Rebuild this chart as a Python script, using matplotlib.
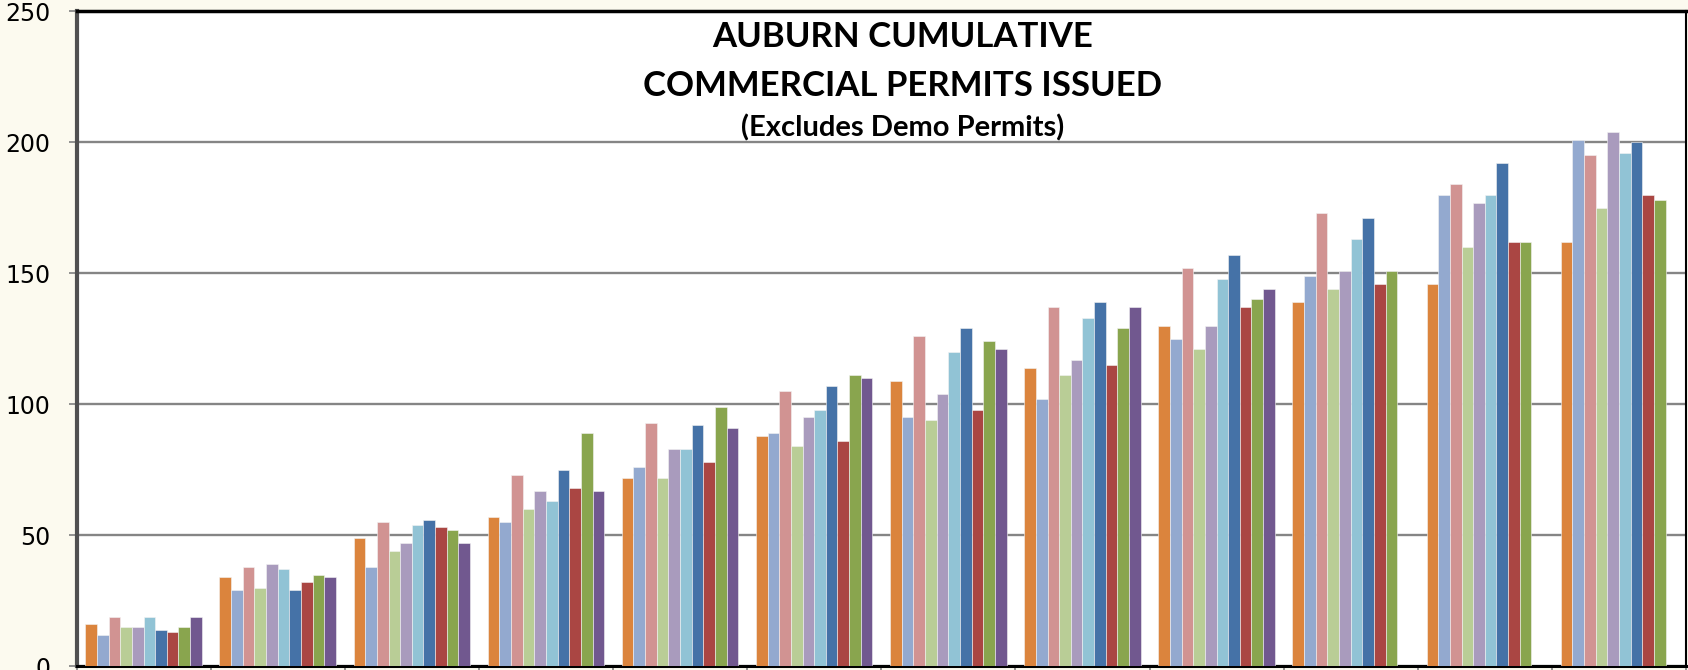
# Auburn cumulative commercial permits by month, one bar per year

import matplotlib
matplotlib.use("Agg")
import matplotlib.pyplot as plt
import numpy as np

# データ (months on the x axis, one series per year, oldest first)
months = ["Jan", "Feb", "Mar", "Apr", "May", "Jun",
          "Jul", "Aug", "Sep", "Oct", "Nov", "Dec"]

s_orange = [16, 34, 49, 57, 72, 88, 109, 114, 130, 139, 146, 162]
s_ltblue = [12, 29, 38, 55, 76, 89, 95, 102, 125, 149, 180, 201]
s_pink = [19, 38, 55, 73, 93, 105, 126, 137, 152, 173, 184, 195]
s_ltgreen = [15, 30, 44, 60, 72, 84, 94, 111, 121, 144, 160, 175]
s_lavender = [15, 39, 47, 67, 83, 95, 104, 117, 130, 151, 177, 204]
s_cyan = [19, 37, 54, 63, 83, 98, 120, 133, 148, 163, 180, 196]
s_blue = [14, 29, 56, 75, 92, 107, 129, 139, 157, 171, 192, 200]
s_red = [13, 32, 53, 68, 78, 86, 98, 115, 137, 146, 162, 180]
s_green = [15, 35, 52, 89, 99, 111, 124, 129, 140, 151, 162, 178]
s_purple = [19, 34, 47, 67, 91, 110, 121, 137, 144, None, None, None]

series = [s_orange, s_ltblue, s_pink, s_ltgreen, s_lavender,
          s_cyan, s_blue, s_red, s_green, s_purple]
colors = ["#DB843D", "#93A9CF", "#D19392", "#B9CD96", "#A99BBD",
          "#91C3D5", "#4572A7", "#AA4643", "#89A54E", "#71588F"]

yticks = [0, 50, 100, 150, 200, 250]

# グラフ設定
W, H = 1688, 670
fig = plt.figure(figsize=(W / 100, H / 100), dpi=100)
fig.patch.set_facecolor("#FCFAEF")
ax = fig.add_axes([76.5 / W, (H - 666.3) / H, 1609.5 / W, 655.0 / H])
ax.set_facecolor("white")

n = len(series)
used = 0.868
bw = used / n
x = np.arange(len(months))
for j, (vals, c) in enumerate(zip(series, colors)):
    v = np.array([np.nan if a is None else a for a in vals], dtype=float)
    ax.bar(x + (1 - used) / 2 + j * bw, v, width=bw, align="edge",
           color=c, edgecolor="#F4F4F4", linewidth=0.4, zorder=3)

ax.set_xlim(0, len(months))
ax.set_ylim(0, 250)
ax.set_yticks(yticks)
ax.set_yticklabels([str(t) for t in yticks], fontsize=17, family="DejaVu Sans")
ax.set_xticks(np.arange(len(months) + 1))
ax.set_xticklabels([])
ax.tick_params(axis="y", direction="out", length=6, width=1.2, color="#808080", pad=13)
ax.tick_params(axis="x", direction="out", length=6, width=1.2, color="#808080")

ax.grid(True, axis="y", color="#858585", lw=1.7, zorder=1)

ax.spines["left"].set_color("#505050")
ax.spines["left"].set_linewidth(3)
ax.spines["top"].set_color("black")
ax.spines["top"].set_linewidth(2.5)
ax.spines["right"].set_color("black")
ax.spines["right"].set_linewidth(1.5)
ax.spines["bottom"].set_color("black")
ax.spines["bottom"].set_linewidth(2.2)

# タイトル
tx = 903 / W
fig.text(tx, 1 - 37 / H, "AUBURN CUMULATIVE", ha="center", va="center",
         fontsize=25, fontweight="bold", family="Lato")
fig.text(tx, 1 - 86 / H, "COMMERCIAL PERMITS ISSUED", ha="center", va="center",
         fontsize=25, fontweight="bold", family="Lato")
fig.text(tx, 1 - 128 / H, "(Excludes Demo Permits)", ha="center", va="center",
         fontsize=21, fontweight="bold", family="Lato")

fig.savefig("out.png", dpi=100, facecolor=fig.get_facecolor())
